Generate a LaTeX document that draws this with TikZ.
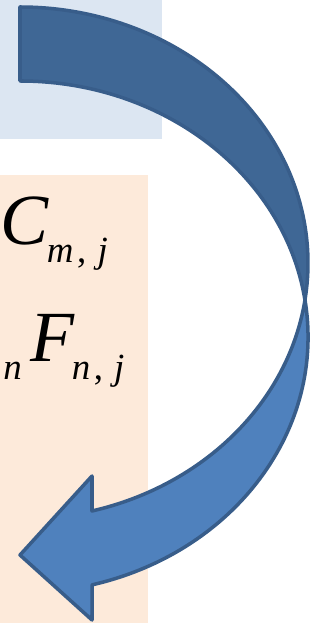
\documentclass[tikz,border=0pt]{standalone}
\usepackage{fontspec}
\setmainfont{Liberation Serif}
\definecolor{panelblue}{HTML}{DCE6F2}
\definecolor{panelpeach}{HTML}{FDEADA}
\definecolor{arrowdark}{HTML}{3F6795}
\definecolor{arrowlight}{HTML}{4F81BD}
\definecolor{arrowline}{HTML}{385D8A}
\newcommand{\bigsym}[1]{{\fontsize{41}{41}\selectfont\itshape #1}}
\newcommand{\lowsym}[1]{\raisebox{-0.35cm}{\fontsize{21}{21}\selectfont\itshape #1}}
\newcommand{\idx}[2]{\lowsym{#1\hspace{0.1em}\upshape,\hspace{0.3em}\itshape #2}}

\begin{document}
\begin{tikzpicture}[x=0.02cm, y=0.02cm,
    band/.style={draw=arrowline, line width=2pt, line join=round},
    formula/.style={anchor=base west, inner sep=0pt}
]
    \useasboundingbox (0,0) rectangle (332,623);
    \fill[panelblue] (0,484) rectangle (162,623);
    \fill[panelpeach] (0,0) rectangle (148,448);

    \node[formula] (cmj) at (0,378) {\bigsym{C}\hspace{-0.03cm}\idx{m}{j}};
    \node[formula] (fnj) at (3,261) {\lowsym{n}\hspace{0.18cm}\bigsym{F}\hspace{-0.06cm}\idx{n}{j}};

    % back half, then front half with the head
    \coordinate (cross) at (305,323);
    \draw[band, fill=arrowdark] (20,616) arc[start angle=90, end angle=-8.31, x radius=288, y radius=256]
        arc[start angle=8.31, end angle=90, x radius=288, y radius=256] -- cycle;
    \draw[band, fill=arrowlight] (cross) arc[start angle=8.31, end angle=-75.52, x radius=288, y radius=256]
        -- (92,3) -- (20,68) -- (92,147) -- (92,112)
        arc[start angle=-75.52, end angle=-8.31, x radius=288, y radius=256] -- cycle;
\end{tikzpicture}
\end{document}
